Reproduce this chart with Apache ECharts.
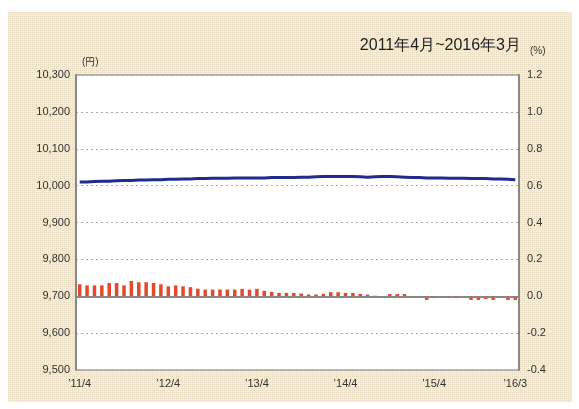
<!DOCTYPE html>
<html><head><meta charset="utf-8">
<script src="https://cdn.jsdelivr.net/npm/echarts@6/dist/echarts.min.js"></script>
<style>html,body{margin:0;padding:0;background:#fff;}#c{width:579px;height:409px;}</style>
</head><body><div id="c"></div>
<script>
// months 2011/4 .. 2016/3
const months = [];
for (let y = 2011, m = 4, i = 0; i < 60; i++) {
  months.push(y + '/' + m);
  m++; if (m > 12) { m = 1; y++; }
}
const tickLabels = {0: '’11/4', 12: '’12/4', 24: '’13/4', 36: '’14/4', 48: '’15/4', 59: '’16/3'};
// price (yen), left axis
const priceValues = [
  10010, 10010, 10011, 10012, 10012, 10013, 10014, 10014, 10015, 10015, 10016, 10016,
  10017, 10017, 10018, 10018, 10019, 10019, 10020, 10020, 10020, 10021, 10021, 10021,
  10021, 10021, 10022, 10022, 10022, 10022, 10023, 10023, 10024, 10025, 10025, 10025,
  10025, 10025, 10024, 10023, 10024, 10025, 10025, 10024, 10023, 10022, 10022, 10021,
  10021, 10021, 10020, 10020, 10020, 10019, 10019, 10019, 10018, 10018, 10017, 10016
];
// change (%), right axis
const changeValues = [
  0.065, 0.059, 0.059, 0.059, 0.072, 0.072, 0.059, 0.083, 0.076, 0.076, 0.072, 0.065,
  0.054, 0.059, 0.054, 0.049, 0.041, 0.036, 0.036, 0.036, 0.036, 0.036, 0.040, 0.036,
  0.040, 0.030, 0.023, 0.018, 0.018, 0.018, 0.015, 0.010, 0.010, 0.013, 0.022, 0.022,
  0.018, 0.018, 0.013, 0.009, 0.003, 0, 0.012, 0.012, 0.012, 0, 0, -0.020,
  -0.010, 0, -0.010, -0.010, 0, -0.020, -0.020, -0.015, -0.020, 0, -0.020, -0.020
];
const titleText = '2011年4月~2016年3月';

// background hatch pattern
const pc = document.createElement('canvas');
pc.width = 4; pc.height = 4;
const g = pc.getContext('2d');
g.fillStyle = '#f6efbf'; g.fillRect(0, 0, 4, 4);
g.fillStyle = '#e6d6c6';
g.fillRect(0, 0, 1, 1); g.fillRect(2, 2, 1, 1);
g.fillStyle = '#ece2bf';
g.fillRect(2, 0, 1, 1); g.fillRect(0, 2, 1, 1);
g.fillStyle = '#faf5d6';
g.fillRect(1, 1, 1, 1); g.fillRect(3, 3, 1, 1);

const font = 'Liberation Sans, Arial, sans-serif';
const chart = echarts.init(document.getElementById('c'), null, {renderer: 'canvas'});
chart.setOption({
  animation: false,
  backgroundColor: '#fff',
  graphic: [
    {type: 'rect', z: -10, silent: true, shape: {x: 8, y: 12, width: 564, height: 390},
     style: {fill: {image: pc, repeat: 'repeat'}}},
    {type: 'text', right: 58, top: 38, style: {text: titleText, font: '16px ' + font, fill: '#222'}},
    {type: 'text', left: 82, top: 57, style: {text: '(円)', font: '10px ' + font, fill: '#333'}},
    {type: 'text', left: 530, top: 46, style: {text: '(%)', font: '10px ' + font, fill: '#333'}}
  ],
  grid: {left: 76, right: 60, top: 75, bottom: 39, show: true, backgroundColor: '#fff', borderColor: '#777', borderWidth: 1},
  xAxis: {
    type: 'category', data: months, boundaryGap: true,
    axisLine: {lineStyle: {color: '#888', width: 2}},
    axisTick: {inside: true, length: 5, alignWithLabel: true, lineStyle: {color: '#666'},
      interval: (i) => i === 12 || i === 24 || i === 36 || i === 48},
    axisLabel: {interval: (i) => tickLabels[i] !== undefined, formatter: (v, i) => tickLabels[i] || '',
      color: '#333', fontSize: 11, fontFamily: font, margin: 8}
  },
  yAxis: [
    {type: 'value', min: 9500, max: 10300, interval: 100,
     axisLine: {show: true, lineStyle: {color: '#888', width: 2}},
     axisTick: {show: false},
     axisLabel: {formatter: (v) => v.toLocaleString('en-US'), color: '#333', fontSize: 11, fontFamily: font, margin: 6},
     splitLine: {show: true, lineStyle: {color: '#aaa', type: [2, 3], width: 1}}},
    {type: 'value', min: -0.4, max: 1.2, interval: 0.2, position: 'right',
     axisLine: {show: true, lineStyle: {color: '#888', width: 2}},
     axisTick: {show: false},
     axisLabel: {formatter: (v) => v.toFixed(1), color: '#333', fontSize: 11, fontFamily: font, margin: 8},
     splitLine: {show: false}}
  ],
  series: [
    {type: 'bar', yAxisIndex: 1, data: changeValues, barWidth: 3.5,
     itemStyle: {color: '#e5482c'},
     markLine: {silent: true, symbol: 'none', label: {show: false},
       lineStyle: {color: '#888', type: 'solid', width: 1.5}, data: [{yAxis: 0}]}},
    {type: 'line', yAxisIndex: 0, data: priceValues, showSymbol: false,
     lineStyle: {color: '#1f2b8e', width: 3}, z: 5}
  ]
});
</script></body></html>
